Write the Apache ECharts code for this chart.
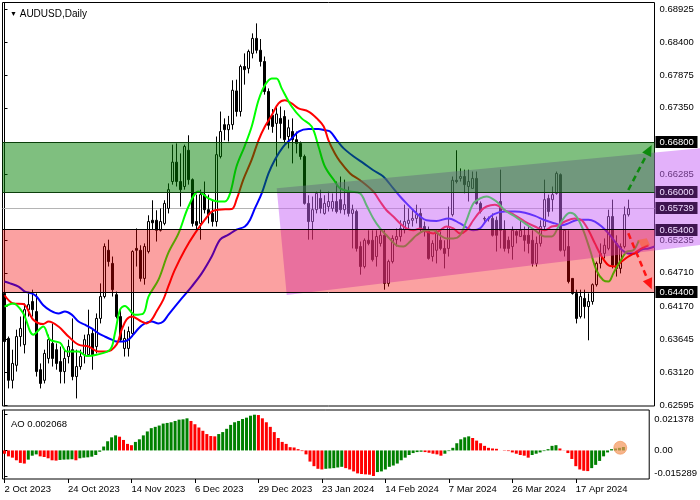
<!DOCTYPE html>
<html><head><meta charset="utf-8">
<script src="https://cdn.jsdelivr.net/npm/echarts@6/dist/echarts.min.js"></script>
<style>html,body{margin:0;padding:0;background:#fff}#c{width:700px;height:500px}</style>
</head><body><div id="c"></div>
<script>
const xTickLabels = ['2 Oct 2023','24 Oct 2023','14 Nov 2023','6 Dec 2023','29 Dec 2023','23 Jan 2024','14 Feb 2024','7 Mar 2024','26 Mar 2024','17 Apr 2024'];
const barSlots = 163;
// [open, close, low, high]
const candles = [
[0.6438,0.6361,0.6358,0.6441],[0.6366,0.6299,0.6286,0.6369],[0.6299,0.6326,0.6286,0.6348],[0.6323,0.6369,0.6313,0.6380],
[0.6369,0.6382,0.6353,0.6401],[0.6356,0.6412,0.6342,0.6422],[0.6412,0.6420,0.6401,0.6438],[0.6425,0.6412,0.6401,0.6444],
[0.6409,0.6313,0.6305,0.6438],[0.6316,0.6294,0.6286,0.6326],[0.6299,0.6342,0.6294,0.6348],[0.6334,0.6364,0.6326,0.6372],
[0.6358,0.6334,0.6321,0.6390],[0.6348,0.6326,0.6316,0.6358],[0.6329,0.6313,0.6294,0.6353],[0.6313,0.6334,0.6294,0.6348],
[0.6337,0.6353,0.6326,0.6364],[0.6348,0.6305,0.6299,0.6398],[0.6305,0.6321,0.6270,0.6348],[0.6321,0.6337,0.6316,0.6348],
[0.6340,0.6364,0.6326,0.6372],[0.6340,0.6372,0.6337,0.6412],[0.6374,0.6340,0.6316,0.6380],[0.6353,0.6398,0.6342,0.6406],
[0.6398,0.6433,0.6390,0.6454],[0.6433,0.6513,0.6430,0.6518],[0.6507,0.6489,0.6481,0.6524],[0.6486,0.6444,0.6433,0.6497],
[0.6436,0.6401,0.6398,0.6441],[0.6401,0.6364,0.6361,0.6412],[0.6350,0.6366,0.6337,0.6380],[0.6350,0.6377,0.6337,0.6385],
[0.6374,0.6505,0.6369,0.6507],[0.6510,0.6507,0.6481,0.6542],[0.6507,0.6462,0.6457,0.6515],[0.6462,0.6513,0.6452,0.6518],
[0.6505,0.6553,0.6502,0.6563],[0.6555,0.6551,0.6540,0.6587],[0.6555,0.6539,0.6521,0.6571],[0.6539,0.6553,0.6537,0.6574],
[0.6550,0.6582,0.6547,0.6587],[0.6574,0.6604,0.6566,0.6614],[0.6617,0.6648,0.6612,0.6676],[0.6648,0.6617,0.6609,0.6678],
[0.6617,0.6604,0.6577,0.6662],[0.6609,0.6673,0.6604,0.6676],[0.6667,0.6620,0.6612,0.6691],[0.6620,0.6550,0.6545,0.6622],
[0.6553,0.6547,0.6540,0.6596],[0.6550,0.6596,0.6524,0.6604],[0.6596,0.6572,0.6566,0.6617],[0.6572,0.6564,0.6550,0.6596],
[0.6566,0.6553,0.6545,0.6588],[0.6553,0.6660,0.6545,0.6689],[0.6657,0.6697,0.6654,0.6729],[0.6708,0.6700,0.6683,0.6718],
[0.6700,0.6708,0.6681,0.6722],[0.6708,0.6763,0.6700,0.6779],[0.6762,0.6729,0.6721,0.6780],[0.6729,0.6801,0.6721,0.6804],
[0.6801,0.6796,0.6772,0.6822],[0.6798,0.6825,0.6790,0.6828],[0.6822,0.6846,0.6814,0.6854],[0.6846,0.6827,0.6822,0.6870],
[0.6827,0.6809,0.6801,0.6845],[0.6809,0.6761,0.6756,0.6817],[0.6761,0.6707,0.6700,0.6766],[0.6723,0.6705,0.6695,0.6733],
[0.6710,0.6725,0.6641,0.6737],[0.6718,0.6710,0.6686,0.6737],[0.6721,0.6684,0.6678,0.6731],[0.6689,0.6703,0.6670,0.6716],
[0.6697,0.6684,0.6646,0.6718],[0.6684,0.6678,0.6662,0.6697],[0.6678,0.6657,0.6652,0.6681],[0.6657,0.6582,0.6580,0.6660],
[0.6582,0.6553,0.6524,0.6595],[0.6553,0.6572,0.6524,0.6593],[0.6572,0.6598,0.6566,0.6601],[0.6590,0.6574,0.6566,0.6604],
[0.6566,0.6582,0.6564,0.6595],[0.6577,0.6585,0.6569,0.6601],[0.6574,0.6585,0.6569,0.6598],[0.6585,0.6569,0.6566,0.6617],
[0.6588,0.6572,0.6566,0.6625],[0.6572,0.6580,0.6564,0.6620],[0.6601,0.6566,0.6561,0.6609],[0.6566,0.6572,0.6510,0.6580],
[0.6569,0.6510,0.6505,0.6572],[0.6513,0.6481,0.6468,0.6521],[0.6481,0.6523,0.6478,0.6526],[0.6523,0.6518,0.6515,0.6539],
[0.6523,0.6492,0.6489,0.6539],[0.6497,0.6529,0.6481,0.6539],[0.6518,0.6531,0.6513,0.6539],[0.6531,0.6454,0.6444,0.6539],
[0.6454,0.6489,0.6449,0.6492],[0.6489,0.6526,0.6486,0.6531],[0.6524,0.6529,0.6513,0.6542],[0.6529,0.6542,0.6521,0.6555],
[0.6540,0.6553,0.6534,0.6580],[0.6550,0.6555,0.6542,0.6574],[0.6555,0.6558,0.6545,0.6572],[0.6558,0.6564,0.6550,0.6580],
[0.6566,0.6540,0.6537,0.6574],[0.6545,0.6540,0.6529,0.6553],[0.6540,0.6494,0.6492,0.6545],[0.6497,0.6518,0.6489,0.6523],
[0.6507,0.6534,0.6486,0.6539],[0.6523,0.6510,0.6507,0.6537],[0.6510,0.6502,0.6478,0.6523],[0.6510,0.6545,0.6497,0.6577],
[0.6564,0.6619,0.6561,0.6625],[0.6619,0.6617,0.6614,0.6667],[0.6622,0.6625,0.6617,0.6638],[0.6625,0.6612,0.6598,0.6636],
[0.6609,0.6617,0.6585,0.6636],[0.6606,0.6622,0.6606,0.6633],[0.6622,0.6582,0.6580,0.6633],[0.6582,0.6569,0.6566,0.6585],
[0.6558,0.6557,0.6553,0.6561],[0.6557,0.6558,0.6553,0.6561],[0.6558,0.6531,0.6529,0.6566],[0.6555,0.6531,0.6505,0.6561],
[0.6585,0.6539,0.6510,0.6636],[0.6539,0.6510,0.6505,0.6555],[0.6523,0.6510,0.6502,0.6529],[0.6513,0.6539,0.6492,0.6545],
[0.6537,0.6531,0.6518,0.6539],[0.6529,0.6539,0.6529,0.6555],[0.6531,0.6523,0.6505,0.6545],[0.6531,0.6518,0.6502,0.6545],
[0.6523,0.6486,0.6481,0.6539],[0.6486,0.6518,0.6481,0.6529],[0.6518,0.6545,0.6513,0.6555],[0.6545,0.6588,0.6539,0.6620],
[0.6590,0.6569,0.6561,0.6596],[0.6588,0.6596,0.6569,0.6609],[0.6598,0.6630,0.6596,0.6633],[0.6628,0.6507,0.6505,0.6630],
[0.6507,0.6539,0.6497,0.6539],[0.6513,0.6457,0.6454,0.6539],[0.6462,0.6438,0.6436,0.6462],[0.6438,0.6398,0.6390,0.6444],
[0.6401,0.6433,0.6398,0.6444],[0.6430,0.6417,0.6398,0.6444],[0.6417,0.6425,0.6363,0.6438],[0.6425,0.6452,0.6420,0.6454],
[0.6452,0.6486,0.6449,0.6489],[0.6486,0.6502,0.6478,0.6518],[0.6502,0.6515,0.6494,0.6526],[0.6510,0.6561,0.6507,0.6572],
[0.6561,0.6483,0.6478,0.6588],[0.6518,0.6478,0.6465,0.6531],[0.6478,0.6513,0.6470,0.6518],[0.6513,0.6564,0.6510,0.6577],
[0.6564,0.65739,0.6561,0.6588]
];
const aoValues = [
-0.00196,-0.00353,-0.00431,-0.00588,-0.00745,-0.00784,-0.00549,-0.00314,-0.00235,-0.00353,
-0.00392,-0.00470,-0.00588,-0.00608,-0.00568,-0.00549,-0.00539,-0.00529,-0.00588,-0.00470,
-0.00431,-0.00412,-0.00372,-0.00274,-0.00078,0.00235,0.00549,0.00784,0.00902,0.00823,
0.00627,0.00392,0.00314,0.00510,0.00666,0.00902,0.01137,0.01333,0.01411,0.01490,
0.01607,0.01646,0.01686,0.01764,0.01842,0.01862,0.01921,0.01764,0.01568,0.01372,
0.01176,0.00980,0.00862,0.00843,0.00980,0.01098,0.01294,0.01529,0.01686,0.01764,
0.01882,0.01960,0.02078,0.021378,0.02117,0.01921,0.01686,0.01411,0.01098,0.00745,
0.00510,0.00392,0.00196,0.00176,0.00078,-0.00039,-0.00235,-0.00666,-0.00941,-0.01098,
-0.01137,-0.01098,-0.01078,-0.01058,-0.01019,-0.00980,-0.01058,-0.01137,-0.01254,-0.01372,
-0.01411,-0.01431,-0.01450,-0.015289,-0.01294,-0.01254,-0.01137,-0.00980,-0.00902,-0.00784,
-0.00588,-0.00431,-0.00274,-0.00157,-0.00098,-0.00078,-0.00098,-0.00137,-0.00196,-0.00235,
-0.00314,-0.00196,-0.00039,0.00157,0.00431,0.00666,0.00784,0.00843,0.00745,0.00588,
0.00431,0.00274,0.00157,0.00118,0.00098,0.00002,-0.00020,-0.00039,-0.00118,-0.00196,
-0.00274,-0.00314,-0.00431,-0.00274,-0.00196,-0.00118,-0.00039,0.00078,0.00274,0.00314,
0.00118,-0.00010,-0.00157,-0.00510,-0.00941,-0.01137,-0.01215,-0.01235,-0.01058,-0.00862,
-0.00627,-0.00353,-0.00118,0.00078,0.00118,0.00157,0.002068
];
const lipsGreen = [[0,0.6417],[2.2,0.6422],[4.7,0.6406],[7.2,0.6372],[9.7,0.6385],[11.4,0.6364],[13.9,0.6359],[15.6,0.6345],[18.5,0.6345],[20.5,0.6338],[23,0.6340],[26.4,0.6348],[27.6,0.6374],[28.9,0.6412],[30.1,0.6418],[32.6,0.6404],[34.7,0.6406],[36,0.6433],[38.5,0.6460],[40.9,0.6502],[43.5,0.6534],[46,0.6577],[48.5,0.6601],[51,0.6590],[53.5,0.6585],[55.1,0.6585],[56.4,0.6598],[58,0.6641],[60,0.6673],[61.8,0.6705],[63.5,0.6747],[65.1,0.6771],[66.8,0.6782],[68,0.6782],[69.3,0.6766],[71.8,0.6737],[74.3,0.6718],[76.8,0.6705],[78.5,0.6673],[80.1,0.6641],[82.6,0.6617],[83.9,0.6606],[86.4,0.6601],[88.9,0.6598],[90.5,0.6579],[92.2,0.6558],[93.9,0.6542],[95.5,0.6531],[98,0.6515],[99.7,0.6513],[101.4,0.6521],[103,0.6531],[105.5,0.6539],[107.2,0.6539],[108.9,0.6531],[110.5,0.6526],[112.2,0.6526],[113.9,0.6531],[115.5,0.6555],[117.2,0.6582],[118.9,0.6590],[120.5,0.6593],[123,0.6585],[125.1,0.6571],[127.6,0.6561],[130.1,0.6550],[132.6,0.6539],[135.1,0.6529],[136.8,0.6529],[138.5,0.6545],[140.1,0.6561],[141.4,0.6567],[143,0.6561],[144.7,0.6539],[146.4,0.6507],[148,0.6475],[149.7,0.6459],[151,0.6457],[152.2,0.6470],[153.9,0.6489],[155.6,0.6505],[157.2,0.6507],[158.6,0.6523]];
const teethRed = [[0,0.6435],[2.2,0.6422],[4.7,0.6421],[7.2,0.6396],[9.7,0.6389],[11,0.6393],[13.5,0.6385],[16,0.6369],[18.5,0.6356],[21,0.6353],[23.5,0.6345],[25.5,0.6345],[28,0.6356],[29.3,0.6380],[30.5,0.6396],[31.8,0.6401],[34.3,0.6393],[35.5,0.6390],[36.8,0.6396],[38,0.6409],[39.7,0.6428],[41,0.6450],[42.6,0.6476],[45.1,0.6508],[47.6,0.6534],[50.1,0.6556],[51.8,0.6569],[53.5,0.6572],[56.8,0.6573],[58,0.6588],[59.7,0.6620],[61.8,0.6652],[63.5,0.6683],[65.1,0.6705],[66.8,0.6723],[68.5,0.6742],[70.1,0.6747],[71.8,0.6742],[73.5,0.6734],[76,0.6729],[78.1,0.6718],[79.8,0.6705],[81,0.6683],[82.6,0.6662],[83.9,0.6649],[86.4,0.6630],[88.9,0.6619],[92.2,0.6601],[93.9,0.6585],[95.5,0.6571],[97.2,0.6561],[98.9,0.6550],[100.5,0.6542],[102.2,0.6539],[103.9,0.6542],[105.5,0.6537],[107.2,0.6534],[108.9,0.6539],[110.5,0.6545],[112.2,0.6542],[113.9,0.6534],[115.5,0.6539],[117.2,0.6555],[118.9,0.6569],[120.5,0.6577],[122.6,0.6580],[125.1,0.6571],[127.6,0.6563],[130.1,0.6553],[132.6,0.6545],[135.1,0.6539],[136.8,0.6545],[138.5,0.6547],[140.1,0.6553],[142.6,0.6558],[144.3,0.6555],[146,0.6539],[147.6,0.6518],[149.3,0.6497],[151,0.6483],[152.6,0.6481],[154.3,0.6489],[156,0.6497],[157.6,0.6503],[159.3,0.6510],[161,0.6515]];
const jawBlue = [[0,0.6457],[1.4,0.6454],[3.5,0.6449],[5.1,0.6441],[6.8,0.6438],[8,0.6433],[9.7,0.6419],[11.4,0.6411],[13.5,0.6406],[15.1,0.6409],[16.8,0.6404],[18.5,0.6393],[20.1,0.6388],[21.8,0.6382],[23.5,0.6374],[25.1,0.6369],[26.8,0.6364],[28,0.6361],[29.7,0.6361],[31,0.6364],[32.2,0.6372],[33.5,0.6382],[35.1,0.6390],[36.8,0.6393],[38.5,0.6390],[39.7,0.6393],[41,0.6404],[44.3,0.6430],[46.8,0.6449],[49.3,0.6470],[51.8,0.6497],[53.9,0.6524],[56,0.6532],[58,0.6540],[60.1,0.6545],[61.4,0.6556],[62.6,0.6574],[64.3,0.6598],[66,0.6630],[67.6,0.6652],[69.7,0.6673],[71.8,0.6686],[73.5,0.6697],[76,0.6701],[78.5,0.6701],[80.1,0.6699],[81.4,0.6697],[83.1,0.6683],[84.8,0.6670],[87.3,0.6657],[89.8,0.6646],[92.2,0.6635],[94.7,0.6625],[97.2,0.6606],[98.9,0.6593],[100.5,0.6582],[102.2,0.6571],[103.9,0.6561],[105.5,0.6555],[108,0.6554],[111,0.6558],[113.9,0.6550],[117.2,0.6539],[118.9,0.6542],[120.5,0.6555],[122.4,0.6565],[125.1,0.6569],[127.6,0.6569],[130.1,0.6567],[132.6,0.6562],[135.1,0.6555],[137.6,0.6550],[139.3,0.6547],[141,0.6550],[143.5,0.6556],[146,0.6556],[147.6,0.6553],[149.3,0.6545],[151,0.6534],[152.6,0.6521],[154.3,0.6508],[156,0.6502],[157.6,0.6502],[159.3,0.6508],[161,0.6510],[162.5,0.6513]];
const priceTicks = [0.68925,0.684,0.67875,0.6735,0.66285,0.65235,0.6471,0.6417,0.63645,0.6312,0.62595];
const levelTags = [0.668,0.66,0.65739,0.654,0.644];
const zoneBands = [[0.660,0.668],[0.644,0.654]];
const lastPrice = 0.65739;
const channelIdx = [68.05,70.55,173.9,173.9];
const channelPx = [0.66061,0.64354,0.65154,0.66701];
const upArrow = [[155.95,0.66034],[161.8,0.66754]];
const downArrow = [[155.95,0.65341],[161.8,0.64445]];
const markerIdx = [158.3,160.55,161.4,159.3];
const markerPx = [0.65234,0.65261,0.65154,0.65117];
const aoTicks = [0.021378,0,-0.015289];
const aoMarker = [155.2,0.0016];

const FONT = '"Liberation Sans", Arial, sans-serif';
const cats = Array.from({length: barSlots}, (_, i) => String(i));
const chart = echarts.init(document.getElementById('c'), null, {renderer: 'canvas'});

function crisp(v){ return Math.round(v - 0.5) + 0.5; }
const showDateAt = i => i % 16 === 0 && !!xTickLabels[i / 16];

function arrowRender(pts, color){
  return function(params, api){
    if (params.dataIndex !== 0) return null;
    const a = api.coord(pts[0]), b = api.coord(pts[1]);
    const dx = b[0]-a[0], dy = b[1]-a[1], L = Math.hypot(dx, dy), ux = dx/L, uy = dy/L;
    const hl = 11, hw = 5;
    const bx = b[0]-ux*hl, by = b[1]-uy*hl;
    return {type:'group', children:[
      {type:'line', shape:{x1:a[0], y1:a[1], x2:bx, y2:by}, style:{stroke:color, lineWidth:2.5, lineDash:[6,4]}},
      {type:'polygon', shape:{points:[[b[0],b[1]],[bx-uy*hw, by+ux*hw],[bx+uy*hw, by-ux*hw]]}, style:{fill:color}}
    ]};
  };
}

const option = {
  animation: false,
  backgroundColor: '#fff',
  title: [
    {text: '{t|▼} AUDUSD,Daily', left: 5, top: 4, textStyle: {fontSize: 10, fontFamily: FONT, fontWeight: 'normal', color: '#000', rich: {t: {fontSize: 7, color: '#000'}}}},
    {text: 'AO 0.002068', left: 6, top: 414, textStyle: {fontSize: 9.5, fontFamily: FONT, fontWeight: 'normal', color: '#000'}}
  ],
  grid: [
    {left: 2.5, top: 2.5, width: 652, height: 403.5, show: true, borderColor: '#000', borderWidth: 1},
    {left: 2.5, top: 410, width: 652, height: 69, show: true, borderColor: '#000', borderWidth: 1}
  ],
  xAxis: [
    {type: 'category', gridIndex: 0, data: cats, boundaryGap: true, show: false},
    {type: 'value', gridIndex: 0, min: -0.5, max: barSlots - 0.5, show: false},
    {type: 'category', gridIndex: 1, data: cats, boundaryGap: true, position: 'bottom',
      axisLine: {show: false, onZero: false},
      axisTick: {show: true, interval: (i) => showDateAt(i), alignWithLabel: true, length: 4, lineStyle: {color: '#000'}},
      axisLabel: {interval: (i) => showDateAt(i), align: 'left', margin: 5, color: '#000', fontSize: 9.5, fontFamily: FONT,
        formatter: (v, i) => showDateAt(i) ? xTickLabels[i/16] : ''},
      splitLine: {show: false}},
    {type: 'value', gridIndex: 1, min: -0.5, max: barSlots - 0.5, show: false}
  ],
  yAxis: [
    {type: 'value', gridIndex: 0, position: 'right', min: 0.62579, max: 0.69034, scale: true,
      axisLine: {show: true, lineStyle: {color: '#000'}},
      axisTick: {show: true, customValues: priceTicks, length: 3, lineStyle: {color: '#000'}},
      axisLabel: {customValues: priceTicks, formatter: v => v.toFixed(5), margin: 5, color: '#000', fontSize: 9.5, fontFamily: FONT},
      splitLine: {show: false}},
    {type: 'value', gridIndex: 1, position: 'right', min: -0.01708, max: 0.02419,
      axisLine: {show: true, lineStyle: {color: '#000'}},
      axisTick: {show: true, customValues: aoTicks, length: 3, lineStyle: {color: '#000'}},
      axisLabel: {customValues: aoTicks, margin: 5, color: '#000', fontSize: 9.5, fontFamily: FONT,
        formatter: v => v === 0 ? '0.00' : (v > 0 ? '{top|' + v.toFixed(6) + '}' : '{bot|' + v.toFixed(6) + '}'),
        rich: {top: {fontSize: 9.5, fontFamily: FONT, color: '#000', padding: [10,0,0,0]}, bot: {fontSize: 9.5, fontFamily: FONT, color: '#000', padding: [0,0,6,0]}}},
      splitLine: {show: false}}
  ],
  series: [
    {type: 'custom', name: 'bid', xAxisIndex: 1, yAxisIndex: 0, z: 1, clip: false, silent: true,
      data: [[0, lastPrice]],
      renderItem: (params, api) => {
        const cs = params.coordSys; const y = crisp(api.coord([0, api.value(1)])[1]);
        return {type: 'line', shape: {x1: cs.x, y1: y, x2: cs.x + cs.width, y2: y}, style: {stroke: '#b4b4b4', lineWidth: 1}};
      }},
    {type: 'candlestick', xAxisIndex: 0, yAxisIndex: 0, z: 2, data: candles, barWidth: 2,
      itemStyle: {color: '#fff', color0: '#000', borderColor: '#000', borderColor0: '#000', borderWidth: 1}},
    {type: 'line', name: 'jaw', xAxisIndex: 1, yAxisIndex: 0, z: 3, data: jawBlue, showSymbol: false, smooth: 0.35, lineStyle: {color: '#0000ff', width: 2}},
    {type: 'line', name: 'teeth', xAxisIndex: 1, yAxisIndex: 0, z: 3, data: teethRed, showSymbol: false, smooth: 0.35, lineStyle: {color: '#ff0000', width: 2}},
    {type: 'line', name: 'lips', xAxisIndex: 1, yAxisIndex: 0, z: 3, data: lipsGreen, showSymbol: false, smooth: 0.35, lineStyle: {color: '#00ff00', width: 2}},
    {type: 'custom', name: 'channel', xAxisIndex: 1, yAxisIndex: 0, z: 10, clip: false, silent: true,
      data: channelIdx.map((x, i) => [x, channelPx[i]]),
      renderItem: (params, api) => {
        if (params.dataIndex !== 0) return null;
        const pts = channelIdx.map((x, i) => api.coord([x, channelPx[i]]));
        return {type: 'polygon', shape: {points: pts}, style: {fill: 'rgba(200,100,245,0.5)'}};
      }},
    {type: 'custom', name: 'zones', xAxisIndex: 1, yAxisIndex: 0, z: 11, clip: false, silent: true,
      data: zoneBands.map(b => [b[0], b[1]]),
      renderItem: (params, api) => {
        const cs = params.coordSys;
        const lo = api.value(0), hi = api.value(1);
        const yT = crisp(api.coord([0, hi])[1]), yB = crisp(api.coord([0, lo])[1]);
        const green = params.dataIndex === 0;
        const fill = green ? 'rgba(0,128,0,0.5)' : 'rgba(245,0,0,0.37)';
        const edge = green ? '#0b3f0b' : '#000';
        return {type: 'group', children: [
          {type: 'rect', shape: {x: cs.x, y: yT, width: cs.width, height: yB - yT}, style: {fill: fill}},
          {type: 'line', shape: {x1: cs.x, y1: yT, x2: cs.x + cs.width, y2: yT}, style: {stroke: edge, lineWidth: 1}},
          {type: 'line', shape: {x1: cs.x, y1: yB, x2: cs.x + cs.width, y2: yB}, style: {stroke: edge, lineWidth: 1}}
        ]};
      }},
    {type: 'custom', name: 'tags', xAxisIndex: 1, yAxisIndex: 0, z: 20, clip: false, silent: true,
      data: levelTags.map(v => [0, v]),
      renderItem: (params, api) => {
        const cs = params.coordSys; const v = api.value(1); const y = Math.round(api.coord([0, v])[1]);
        const x0 = cs.x + cs.width + 1, xm = x0 + 21;
        const p = channelIdx.map((x, i) => api.coord([x, channelPx[i]]));
        const topY = p[0][1] + (p[3][1] - p[0][1]) * (xm - p[0][0]) / (p[3][0] - p[0][0]);
        const botY = p[1][1] + (p[2][1] - p[1][1]) * (xm - p[1][0]) / (p[2][0] - p[1][0]);
        const under = y > topY && y < botY;
        return {type: 'group', children: [
          {type: 'rect', shape: {x: x0, y: y - 6, width: 42, height: 12}, style: {fill: under ? '#3e1450' : '#000'}},
          {type: 'text', style: {x: x0 + 4, y: y, text: v.toFixed(5), fill: under ? '#f0dcff' : '#fff', font: '9.5px ' + FONT, verticalAlign: 'middle', align: 'left'}}
        ]};
      }},
    {type: 'custom', name: 'marker', xAxisIndex: 1, yAxisIndex: 0, z: 12, clip: false, silent: true,
      data: markerIdx.map((x, i) => [x, markerPx[i]]),
      renderItem: (params, api) => {
        if (params.dataIndex !== 0) return null;
        const pts = markerIdx.map((x, i) => api.coord([x, markerPx[i]]));
        return {type: 'polygon', shape: {points: pts}, style: {fill: 'rgba(255,100,40,0.55)'}};
      }},
    {type: 'custom', name: 'up', xAxisIndex: 1, yAxisIndex: 0, z: 13, clip: false, silent: true, data: upArrow, renderItem: arrowRender(upArrow, '#0e8a0e')},
    {type: 'custom', name: 'down', xAxisIndex: 1, yAxisIndex: 0, z: 13, clip: false, silent: true, data: downArrow, renderItem: arrowRender(downArrow, '#ff1414')},
    {type: 'bar', name: 'AO', xAxisIndex: 2, yAxisIndex: 1, data: aoValues, barWidth: 3,
      itemStyle: {color: p => (p.dataIndex === 0 || aoValues[p.dataIndex] < aoValues[p.dataIndex - 1]) ? '#ff0000' : '#008000'}},
    {type: 'custom', name: 'aoMark', xAxisIndex: 3, yAxisIndex: 1, z: 12, clip: false, silent: true, data: [aoMarker],
      renderItem: (params, api) => {
        const c = api.coord([api.value(0), api.value(1)]);
        return {type: 'circle', shape: {cx: c[0], cy: c[1], r: 6.5}, style: {fill: 'rgba(244,150,90,0.7)', stroke: 'rgba(240,130,60,0.5)', lineWidth: 1}};
      }}
  ]
};
chart.setOption(option);
</script></body></html>
